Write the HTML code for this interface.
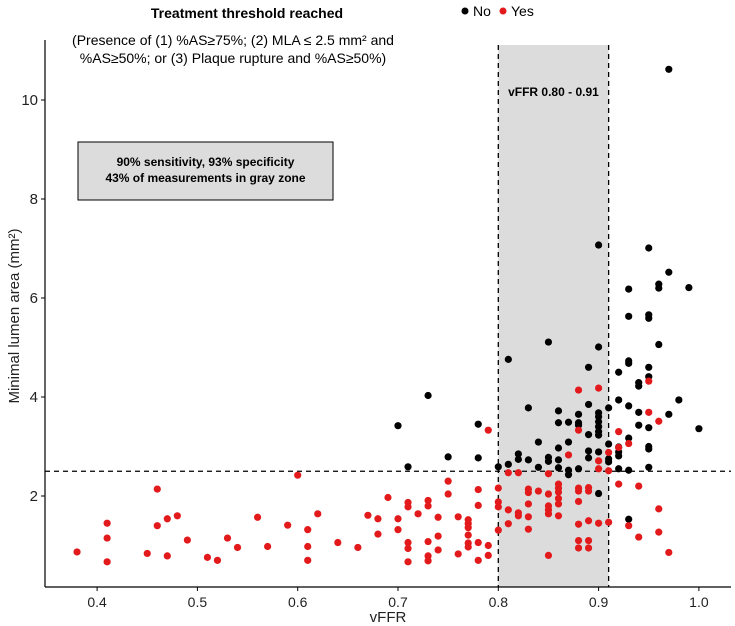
<!DOCTYPE html>
<html><head><meta charset="utf-8"><style>
body{margin:0;background:#fff;}
svg{display:block;font-family:"Liberation Sans",sans-serif;}
</style></head><body>
<svg id="chart" width="735" height="626" viewBox="0 0 735 626">
<g id="bg"></g>
<g id="pts"></g>
<g id="axes"></g>
<text x="247" y="18" font-size="14" font-weight="bold" text-anchor="middle">Treatment threshold reached</text>
<text x="233" y="45" font-size="14" text-anchor="middle">(Presence of (1) %AS≥75%; (2) MLA ≤ 2.5 mm² and</text>
<text x="233" y="63" font-size="14" text-anchor="middle">%AS≥50%; or (3) Plaque rupture and %AS≥50%)</text>
<g><circle cx="465" cy="11" r="3.5" fill="#000"/><text x="473" y="16" font-size="14">No</text></g>
<g><circle cx="503" cy="11" r="3.5" fill="#e31a1c"/><text x="511" y="16" font-size="14">Yes</text></g>
</svg>
<script>
const xTicks=[0.4,0.5,0.6,0.7,0.8,0.9,1.0];
const yTicks=[2,4,6,8,10];
const threshold=2.5;
const grayZone=[0.80,0.91];
const noX=[0.73,0.70,0.78,0.75,0.78,0.71,0.80,0.81,0.82,0.82,0.83,0.83,0.84,0.84,0.85,0.85,0.86,0.86,0.86,0.86,0.86,0.87,0.87,0.87,0.87,0.88,0.88,0.88,0.88,0.89,0.89,0.89,0.89,0.90,0.90,0.90,0.90,0.90,0.90,0.90,0.90,0.91,0.91,0.91,0.91,0.92,0.92,0.92,0.92,0.92,0.93,0.93,0.93,0.93,0.94,0.94,0.95,0.95,0.95,0.95,0.97,0.98,1.00,
0.97,0.90,0.95,0.97,0.93,0.96,0.96,0.99,0.93,0.95,0.95,0.85,0.90,0.96,0.81,0.93,0.93,0.89,0.95,0.92,0.95,0.94,0.94];
const noY=[4.03,3.42,3.45,2.79,2.77,2.59,2.59,2.64,2.85,2.74,3.78,2.73,3.09,2.58,2.78,2.70,3.72,3.48,2.97,2.73,2.57,3.49,3.09,2.52,2.43,3.65,3.48,3.43,2.55,3.85,3.24,2.91,2.77,3.68,3.60,3.50,3.40,3.30,3.23,2.89,2.05,3.78,3.05,2.75,2.69,3.94,2.99,2.89,2.81,2.55,3.82,3.17,2.52,1.53,3.69,3.43,3.38,3.00,2.95,2.58,3.65,3.94,3.36,
10.62,7.07,7.01,6.52,6.18,6.28,6.20,6.21,5.63,5.66,5.59,5.11,5.01,5.06,4.76,4.73,4.68,4.60,4.60,4.50,4.41,4.29,4.22];
const yesX=[0.38,0.41,0.41,0.41,0.45,0.46,0.46,0.47,0.47,0.48,0.49,0.51,0.52,0.53,0.54,0.56,0.57,0.59,0.60,0.61,0.61,0.61,
0.79,0.62,0.64,0.66,0.67,0.68,0.68,0.69,0.70,0.70,0.71,0.71,0.71,0.71,0.71,0.72,0.73,0.73,0.73,0.73,0.73,0.74,0.74,0.74,0.75,0.75,0.76,0.76,0.77,0.77,0.77,0.77,0.77,0.77,0.78,0.78,0.78,0.78,0.79,0.79,0.80,0.80,0.80,0.80,
0.81,0.82,0.81,0.81,0.82,0.82,0.83,0.83,0.83,0.83,0.83,0.84,0.85,0.85,0.85,0.85,0.85,0.85,0.86,0.86,0.86,0.86,0.86,0.86,0.87,0.88,0.88,0.88,0.88,0.88,0.88,0.88,0.88,0.89,0.89,0.89,0.89,0.89,0.90,0.90,0.90,0.90,0.91,0.91,0.91,0.92,0.92,0.92,0.93,0.93,0.94,0.94,0.95,0.95,0.96,0.96,0.96,0.97];
const yesY=[0.87,1.45,1.15,0.67,0.84,2.14,1.40,1.54,0.79,1.60,1.11,0.76,0.70,1.15,0.96,1.57,0.98,1.41,2.42,1.32,0.98,0.70,
3.33,1.64,1.06,0.96,1.61,1.54,1.23,1.97,1.54,1.32,1.87,1.78,1.06,0.94,0.67,1.64,1.91,1.80,1.08,0.79,0.69,1.57,1.19,0.91,2.30,2.04,1.58,0.83,1.52,1.44,1.36,1.21,1.05,0.97,2.13,1.81,1.06,0.70,1.00,0.80,2.16,1.88,1.78,1.31,
2.47,2.47,1.72,1.44,1.66,1.60,2.14,2.07,1.84,1.58,1.33,2.10,2.45,2.04,1.80,1.72,1.64,0.80,2.24,2.16,2.08,1.95,1.84,1.60,2.83,4.14,3.33,2.16,2.10,1.89,1.43,1.10,0.95,2.17,2.10,1.50,1.10,0.95,4.18,2.71,2.55,1.45,2.88,2.51,1.47,3.30,2.98,2.24,3.06,1.40,2.20,1.17,3.69,4.32,3.51,1.74,1.27,0.86];

const X=v=>498.3+1003*(v-0.8);
const Y=v=>595-49.5*v;
const L=45,R=731,T=45,B=587;
const NS='http://www.w3.org/2000/svg';
function mk(tag,attrs,parent){const e=document.createElementNS(NS,tag);for(const k in attrs)e.setAttribute(k,attrs[k]);parent.appendChild(e);return e;}
const bg=document.getElementById('bg'),pts=document.getElementById('pts'),ax=document.getElementById('axes');

let r=mk('rect',{x:X(grayZone[0]),y:T,width:X(grayZone[1])-X(grayZone[0]),height:B-T,fill:'#dcdcdc'},bg);


grayZone.forEach(g=>{const l=mk('line',{x1:X(g),x2:X(g),y1:T,y2:B,stroke:'#000','stroke-dasharray':'5,4','stroke-width':1.3},bg);

});
let hl=mk('line',{x1:L,x2:R,y1:Y(threshold),y2:Y(threshold),stroke:'#000','stroke-dasharray':'5,4','stroke-width':1.3},bg);


let gl=mk('text',{x:(X(grayZone[0])+X(grayZone[1]))/2,y:96,'font-size':12,'font-weight':'bold','text-anchor':'middle'},bg);
gl.textContent='vFFR 0.80 - 0.91';


let bx=mk('rect',{x:78,y:142,width:255,height:58,fill:'#dcdcdc',stroke:'#000','stroke-width':1},bg);


['90% sensitivity, 93% specificity','43% of measurements in gray zone'].forEach((s,i)=>{const t=mk('text',{x:205.5,y:166+i*16,'font-size':12,'font-weight':'bold','text-anchor':'middle'},bg);t.textContent=s;

});

noX.forEach((x,i)=>{const c=mk('circle',{cx:X(x),cy:Y(noY[i]),r:3.6,fill:'#000'},pts);

});
yesX.forEach((x,i)=>{const c=mk('circle',{cx:X(x),cy:Y(yesY[i]),r:3.6,fill:'#e31a1c'},pts);

});

let xa=mk('line',{x1:L,x2:R,y1:B,y2:B,stroke:'#000','stroke-width':1.2},ax);


let ya=mk('line',{x1:L,x2:L,y1:T-5,y2:B,stroke:'#000','stroke-width':1.2},ax);


xTicks.forEach(v=>{mk('line',{x1:X(v),x2:X(v),y1:B,y2:B+4,stroke:'#000'},ax);
const t=mk('text',{x:X(v),y:B+20,'font-size':14,'text-anchor':'middle',fill:'#222'},ax);t.textContent=v.toFixed(1);

});
yTicks.forEach(v=>{mk('line',{x1:L-4,x2:L,y1:Y(v),y2:Y(v),stroke:'#000'},ax);
const t=mk('text',{x:L-7,y:Y(v)+5,'font-size':15,'text-anchor':'end',fill:'#222'},ax);t.textContent=v;

});
let xt=mk('text',{x:388,y:622,'font-size':15,'text-anchor':'middle',fill:'#222'},ax);xt.textContent='vFFR';


let yt=mk('text',{x:0,y:0,'font-size':15,'text-anchor':'middle',fill:'#222',transform:'translate(19,316) rotate(-90)'},ax);yt.textContent='Minimal lumen area (mm²)';


</script>
</body></html>
